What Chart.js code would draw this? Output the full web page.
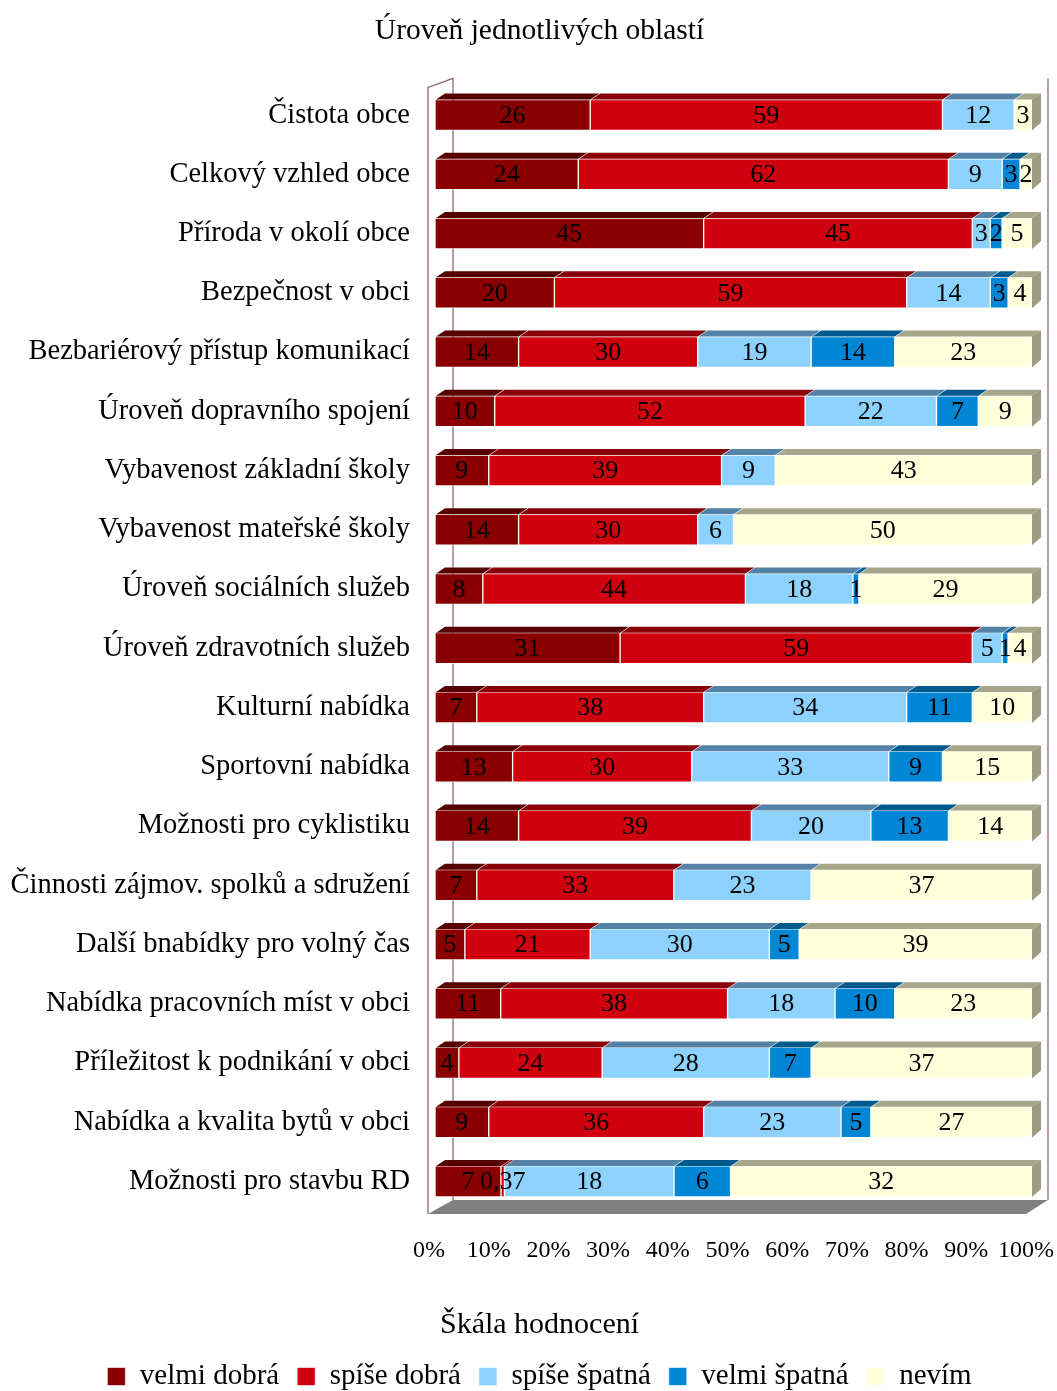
<!DOCTYPE html>
<html>
<head>
<meta charset="utf-8">
<script src="https://cdn.jsdelivr.net/npm/chart.js@4.4.1/dist/chart.umd.min.js"></script>
<style>
  html, body { margin: 0; padding: 0; background: #fff; overflow: hidden; }
  canvas { display: block; }
</style>
</head>
<body>
<canvas id="chart" width="1057" height="1391" style="width:1057px;height:1391px"></canvas>
<script>
const categories = [
  'Čistota obce', 'Celkový vzhled obce', 'Příroda v okolí obce', 'Bezpečnost v obci',
  'Bezbariérový přístup komunikací', 'Úroveň dopravního spojení', 'Vybavenost základní školy',
  'Vybavenost mateřské školy', 'Úroveň sociálních služeb', 'Úroveň zdravotních služeb',
  'Kulturní nabídka', 'Sportovní nabídka', 'Možnosti pro cyklistiku',
  'Činnosti zájmov. spolků a sdružení', 'Další bnabídky pro volný čas',
  'Nabídka pracovních míst v obci', 'Příležitost k podnikání v obci',
  'Nabídka a kvalita bytů v obci', 'Možnosti pro stavbu RD'
];
const seriesNames = ['velmi dobrá', 'spíše dobrá', 'spíše špatná', 'velmi špatná', 'nevím'];
const velmiDobra  = [26, 24, 45, 20, 14, 10, 9, 14, 8, 31, 7, 13, 14, 7, 5, 11, 4, 9, 7];
const spiseDobra  = [59, 62, 45, 59, 30, 52, 39, 30, 44, 59, 38, 30, 39, 33, 21, 38, 24, 36, 0.37];
const spiseSpatna = [12, 9, 3, 14, 19, 22, 9, 6, 18, 5, 34, 33, 20, 23, 30, 18, 28, 23, 18];
const velmiSpatna = [0, 3, 2, 3, 14, 7, 0, 0, 1, 1, 11, 9, 13, 0, 5, 10, 7, 5, 6];
const nevim       = [3, 2, 5, 4, 23, 9, 43, 50, 29, 4, 10, 15, 14, 37, 39, 23, 37, 27, 32];
const xTicks = [0, 10, 20, 30, 40, 50, 60, 70, 80, 90, 100];

const raw = [velmiDobra, spiseDobra, spiseSpatna, velmiSpatna, nevim];
const front = ['#8a0000', '#d0000f', '#8cd2fd', '#0086d4', '#ffffdc'];
const topc  = ['#560000', '#8a0008', '#5482a6', '#005a8e', '#a6a68a'];
const SIDE = '#9c9c80';
const DX = 9, DY = 6;
const FONT = '"Liberation Serif", "Times New Roman", serif';

const totals = categories.map((c, i) => raw.reduce((s, a) => s + a[i], 0));

const datasets = raw.map((arr, k) => ({
  label: seriesNames[k],
  data: arr.map((v, i) => v / totals[i] * 100),
  backgroundColor: front[k],
  borderColor: 'rgba(255,255,255,0.6)',
  borderWidth: 1,
  borderRadius: 3,
  borderSkipped: false,
  barThickness: 31
}));

const threeD = {
  id: 'threeD',
  beforeDatasetsDraw(chart) {
    const ctx = chart.ctx, a = chart.chartArea;
    const L = a.left - 7, R = a.right - 6, T = a.top, B = a.bottom + 3;
    ctx.save();
    // floor
    ctx.fillStyle = '#808080';
    ctx.beginPath();
    ctx.moveTo(L, B); ctx.lineTo(L + 25, B - 14); ctx.lineTo(R + 22, B - 14); ctx.lineTo(R, B);
    ctx.closePath(); ctx.fill();
    // walls
    ctx.strokeStyle = '#8c5a6e';
    ctx.lineWidth = 1.2;
    ctx.beginPath();
    ctx.moveTo(L, B); ctx.lineTo(L, T + 2); ctx.lineTo(L + 25, T - 7); ctx.lineTo(L + 25, B - 14);
    ctx.moveTo(R + 22, T - 7); ctx.lineTo(R + 22, B - 14);
    ctx.stroke();
    ctx.restore();
  },
  afterDatasetsDraw(chart) {
    const ctx = chart.ctx;
    ctx.save();
    const n = chart.data.labels.length;
    for (let i = 0; i < n; i++) {
      let last = null;
      chart.data.datasets.forEach((ds, k) => {
        const el = chart.getDatasetMeta(k).data[i];
        const p = el.getProps(['x', 'y', 'base', 'height'], true);
        const l = Math.min(p.x, p.base), r = Math.max(p.x, p.base);
        if (r - l <= 0) return;
        const top = p.y - p.height / 2;
        ctx.fillStyle = topc[k];
        ctx.beginPath();
        ctx.moveTo(l + 1, top); ctx.lineTo(l + 1 + DX, top - DY);
        ctx.lineTo(r + DX, top - DY); ctx.lineTo(r, top);
        ctx.closePath(); ctx.fill();
        last = {r, top, bottom: p.y + p.height / 2};
      });
      if (last) {
        ctx.fillStyle = SIDE;
        ctx.beginPath();
        ctx.moveTo(last.r, last.top); ctx.lineTo(last.r + DX, last.top - DY);
        ctx.lineTo(last.r + DX, last.bottom - DY - 2); ctx.lineTo(last.r, last.bottom);
        ctx.closePath(); ctx.fill();
      }
    }
    // value labels
    ctx.fillStyle = '#000';
    ctx.font = '26px ' + FONT;
    ctx.textAlign = 'center';
    ctx.textBaseline = 'middle';
    chart.data.datasets.forEach((ds, k) => {
      chart.getDatasetMeta(k).data.forEach((el, i) => {
        const v = raw[k][i];
        if (!v) return;
        const p = el.getProps(['x', 'y', 'base'], true);
        const txt = String(v).replace('.', ',');
        ctx.fillText(txt, (p.x + p.base) / 2, p.y + 1);
      });
    });
    ctx.restore();
  }
};

new Chart(document.getElementById('chart'), {
  type: 'bar',
  data: { labels: categories, datasets: datasets },
  plugins: [threeD],
  options: {
    indexAxis: 'y',
    responsive: false,
    devicePixelRatio: 1,
    animation: false,
    layout: { padding: { left: 6, right: -16, top: 0, bottom: -10 } },
    scales: {
      x: {
        stacked: true,
        min: 0, max: 100,
        afterBuildTicks(s) { s.ticks = xTicks.map(v => ({ value: v })); },
        afterFit(s) { s.paddingLeft = 0; s.paddingRight = 25; s.height = 53; },
        grid: { display: false },
        border: { display: false },
        ticks: {
          color: '#000',
          font: { family: FONT, size: 24 },
          padding: 17,
          labelOffset: -6,
          maxRotation: 0,
          callback: v => v + '%'
        }
      },
      y: {
        stacked: true,
        grid: { display: false },
        border: { display: false },
        afterFit(s) { s.width = 429; },
        ticks: {
          color: '#000',
          font: { family: FONT, size: 28.5 },
          padding: 17,
          autoSkip: false
        }
      }
    },
    plugins: {
      title: {
        display: true,
        text: 'Úroveň jednotlivých oblastí',
        color: '#000',
        font: { family: FONT, size: 29.5, weight: 'normal' },
        padding: { top: 14, bottom: 36 }
      },
      legend: {
        position: 'bottom',
        title: {
          display: true,
          text: 'Škála hodnocení',
          color: '#000',
          font: { family: FONT, size: 30 },
          padding: { top: 46, bottom: -2 }
        },
        labels: {
          color: '#000',
          font: { family: FONT, size: 29 },
          boxWidth: 18,
          boxHeight: 18,
          padding: 18
        }
      },
      tooltip: { enabled: false }
    }
  }
});
</script>
</body>
</html>
